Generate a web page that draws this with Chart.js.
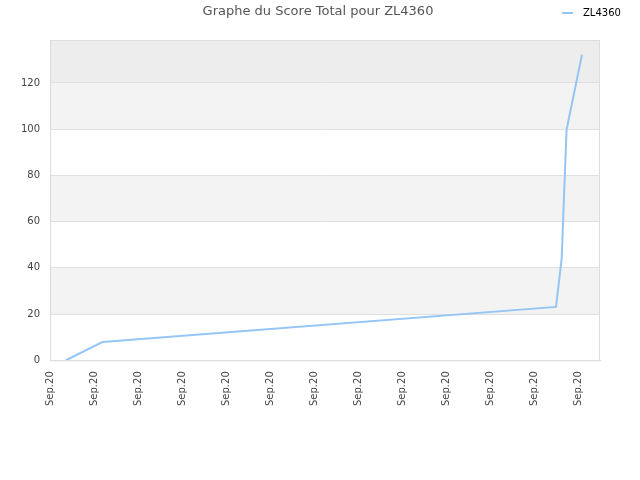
<!DOCTYPE html>
<html>
<head>
<meta charset="utf-8">
<script src="https://cdn.jsdelivr.net/npm/chart.js@4/dist/chart.umd.min.js"></script>
<style>
  html, body { margin: 0; padding: 0; background: #fff; }
  #wrap { width: 640px; height: 480px; }
</style>
</head>
<body>
<div id="wrap"><canvas id="scoreChart"></canvas></div>
<script>
// position on the time axis (one unit per tick) and total score
const scoreX = [0.36, 1.19, 11.5, 11.63, 11.68, 11.74, 12.09];
const scoreY = [0, 7.9, 23.1, 44.2, 70.2, 99.7, 132.2];
const tickLabel = 'Sep.20';
const seriesName = 'ZL4360';
const chartTitle = 'Graphe du Score Total pour ZL4360';
const lineColor = '#95c5f5';

const bandsPlugin = {
    id: 'bands',
    beforeDraw(chart) {
        const { ctx, chartArea: a, scales: { y } } = chart;
        const bands = [
            [20, 40, '#f3f3f3'],
            [60, 80, '#f3f3f3'],
            [100, 120, '#f3f3f3'],
            [120, y.max, '#ededed']
        ];
        ctx.save();
        bands.forEach(([from, to, color]) => {
            const top = y.getPixelForValue(to);
            const bottom = y.getPixelForValue(from);
            ctx.fillStyle = color;
            ctx.fillRect(a.left, top, a.right - a.left, bottom - top);
        });
        ctx.restore();
    },
    afterDatasetsDraw(chart) {
        const { ctx, chartArea: a } = chart;
        ctx.save();
        ctx.strokeStyle = '#dddddd';
        ctx.lineWidth = 1;
        ctx.strokeRect(a.left + 0.5, a.top + 0.5, a.right - a.left - 1, a.bottom - a.top);
        ctx.restore();
    },
    afterDraw(chart) {
        const ctx = chart.ctx;
        ctx.save();
        // title
        ctx.font = '13px "DejaVu Sans"';
        ctx.fillStyle = '#555555';
        ctx.textAlign = 'center';
        ctx.textBaseline = 'middle';
        ctx.fillText(chartTitle, 318, 12);
        // legend, on the title line at the right
        ctx.fillStyle = lineColor;
        ctx.fillRect(562, 12, 11, 2);
        ctx.font = '10px "DejaVu Sans"';
        ctx.fillStyle = '#000';
        ctx.textAlign = 'left';
        ctx.fillText(seriesName, 583, 13);
        ctx.restore();
    }
};

const ctx = document.getElementById('scoreChart').getContext('2d');
new Chart(ctx, {
    type: 'line',
    data: {
        datasets: [{
            label: seriesName,
            data: scoreX.map((x, i) => ({ x: x, y: scoreY[i] })),
            borderColor: lineColor,
            backgroundColor: lineColor,
            borderWidth: 2,
            pointRadius: 0,
            tension: 0,
            fill: false
        }]
    },
    options: {
        responsive: true,
        maintainAspectRatio: false,
        animation: false,
        layout: { padding: { left: 11, right: 40, top: 40, bottom: 63 } },
        plugins: {
            title: { display: false },
            tooltip: { enabled: false },
            legend: { display: false }
        },
        scales: {
            x: {
                type: 'linear',
                min: 0,
                max: 12.5,
                grid: { display: false, drawTicks: false },
                border: { display: true, color: '#dddddd' },
                ticks: {
                    stepSize: 1,
                    includeBounds: false,
                    autoSkip: false,
                    minRotation: 90,
                    maxRotation: 90,
                    padding: 11,
                    color: '#444',
                    font: { family: 'DejaVu Sans', size: 10 },
                    callback: () => tickLabel
                }
            },
            y: {
                min: 0,
                max: 138.6,
                grid: { color: '#e0e0e0', drawTicks: false },
                border: { display: true, color: '#dddddd' },
                ticks: {
                    stepSize: 20,
                    includeBounds: false,
                    padding: 10,
                    color: '#444',
                    font: { family: 'DejaVu Sans', size: 10 }
                }
            }
        }
    },
    plugins: [bandsPlugin]
});
</script>
</body>
</html>
